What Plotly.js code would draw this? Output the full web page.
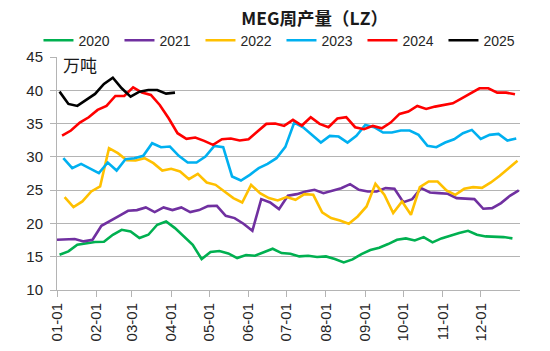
<!DOCTYPE html>
<html>
<head>
<meta charset="utf-8">
<script src="https://cdn.plot.ly/plotly-3.0.1.min.js"></script>
<style>html,body{margin:0;padding:0;background:#fff;}#chart{width:550px;height:351px;}</style>
</head>
<body>
<div id="chart"></div>
<script>
// Weekly MEG output (万吨), weekly Friday data, one series per year
const seriesNames = ['2020', '2021', '2022', '2023', '2024', '2025'];
// first Friday of each year, as day offset from Jan 1
const startOffsets = [2, 0, 6, 5, 4, 2];
const v2020 = [15.3,15.8,16.8,17.05,17.2,17.25,18.3,19.05,18.8,17.8,18.3,19.8,20.3,19.3,18.05,16.8,14.65,15.7,15.85,15.5,14.8,15.25,15.15,15.65,16.2,15.55,15.45,15.05,15.15,14.95,15.05,14.65,14.15,14.6,15.4,16.0,16.35,16.9,17.55,17.75,17.45,17.95,17.15,17.75,18.2,18.55,18.9,18.3,18.05,18.05,17.95,17.75];
const v2021 = [17.55,17.55,17.65,17.3,17.55,19.65,20.45,21.15,21.9,22.0,22.4,21.7,22.4,22.0,22.4,21.7,22.0,22.6,22.65,21.15,20.8,19.95,18.9,23.65,23.15,22.15,24.15,24.4,24.8,25.05,24.55,24.9,25.3,25.9,25.05,24.8,24.8,25.3,25.2,23.2,23.65,25.3,24.65,24.55,24.45,23.8,23.7,23.65,22.2,22.3,23.05,24.15,24.95];
const v2022 = [23.95,22.45,23.3,24.8,25.55,31.3,30.55,29.5,29.45,29.8,29.05,27.95,28.2,27.8,26.65,27.45,26.15,25.8,24.8,23.8,23.15,25.8,24.55,23.8,23.45,23.95,23.55,24.4,24.3,21.65,20.8,20.45,19.95,21.05,22.55,25.95,24.3,21.55,23.3,21.3,25.45,26.3,26.3,24.95,24.3,25.2,25.45,25.35,26.15,27.15,28.3,29.4];
const v2023 = [29.8,28.3,28.95,28.2,27.55,29.15,27.95,29.65,29.8,30.15,32.05,31.45,31.55,30.15,29.15,29.15,30.05,31.65,31.45,27.05,26.45,27.3,28.3,28.95,29.8,31.5,35.15,34.45,33.3,32.15,33.15,33.05,32.15,33.15,34.8,34.45,33.65,33.65,33.95,33.95,33.3,31.65,31.45,32.15,32.65,33.55,34.05,32.7,33.3,33.45,32.45,32.75];
const v2024 = [33.2,33.95,35.15,35.95,37.05,37.65,39.15,39.15,40.45,39.65,39.3,37.8,35.8,33.55,32.7,32.9,32.4,31.8,32.65,32.75,32.45,32.65,33.8,34.95,35.0,34.65,35.55,34.7,35.95,34.95,34.45,35.75,35.95,34.45,34.15,34.65,34.3,35.15,36.45,36.8,37.65,37.2,37.55,37.85,38.05,38.8,39.55,40.3,40.3,39.65,39.65,39.4];
const v2025 = [39.8,37.95,37.65,38.55,39.45,40.95,41.9,40.3,39.05,39.8,40.05,40.05,39.5,39.65];
const seriesValues = [v2020, v2021, v2022, v2023, v2024, v2025];
const colors = ['#00B050', '#7030A0', '#FFC000', '#00B0F0', '#FF0000', '#000000'];

const DAY = 86400000;
const base = Date.UTC(2021, 0, 1);
function toDate(ms) {
  const d = new Date(ms);
  const p = n => String(n).padStart(2, '0');
  return d.getUTCFullYear() + '-' + p(d.getUTCMonth() + 1) + '-' + p(d.getUTCDate());
}

const traces = seriesNames.map((name, k) => ({
  type: 'scatter',
  mode: 'lines',
  name: name,
  x: seriesValues[k].map((_, i) => toDate(base + (startOffsets[k] + 7 * i) * DAY)),
  y: seriesValues[k],
  line: {color: colors[k], width: 2.6},
  hoverinfo: 'x+y+name'
}));

const grid = '#B4B4B4';
const layout = {
  width: 550, height: 351,
  margin: {l: 57, r: 30, t: 57, b: 61},
  paper_bgcolor: '#fff', plot_bgcolor: '#fff',
  font: {family: 'Liberation Sans, Arial, sans-serif', color: '#262626'},
  title: {
    text: '<b>MEG周产量（LZ）</b>',
    font: {family: 'Noto Sans CJK SC, sans-serif', size: 17.5, color: '#1a1a1a'},
    xref: 'container', x: 0.572, xanchor: 'center',
    yref: 'container', y: 0.946, yanchor: 'middle'
  },
  showlegend: true,
  legend: {
    orientation: 'h', x: -0.04, xanchor: 'left', y: 1.07, yanchor: 'middle',
    font: {size: 14, color: '#262626'}, bgcolor: 'rgba(0,0,0,0)',
    itemwidth: 30, entrywidth: 36, traceorder: 'normal'
  },
  xaxis: {
    type: 'date',
    range: ['2021-01-01', '2021-12-31 23:00'],
    tick0: '2021-01-01', dtick: 'M1', tickformat: '%m-%d',
    tickangle: -90, tickfont: {size: 15},
    ticks: 'outside', ticklen: 6, tickcolor: grid,
    showgrid: false, showline: true, linecolor: grid, linewidth: 1,
    zeroline: false, fixedrange: true
  },
  yaxis: {
    range: [10, 45], dtick: 5, tick0: 10,
    tickfont: {size: 15},
    ticks: 'outside', ticklen: 6, tickcolor: grid,
    showgrid: true, gridcolor: grid, gridwidth: 1,
    showline: true, linecolor: grid, linewidth: 1,
    zeroline: false, fixedrange: true, ticklabelstandoff: 4
  },
  annotations: [{
    text: '万吨', xref: 'paper', yref: 'paper', x: 0.008, y: 0.966,
    xanchor: 'left', yanchor: 'middle', showarrow: false,
    font: {family: 'Noto Sans CJK SC, sans-serif', size: 17, color: '#1a1a1a'}
  }]
};

Plotly.newPlot('chart', traces, layout, {displayModeBar: false, staticPlot: true});
</script>
</body>
</html>
